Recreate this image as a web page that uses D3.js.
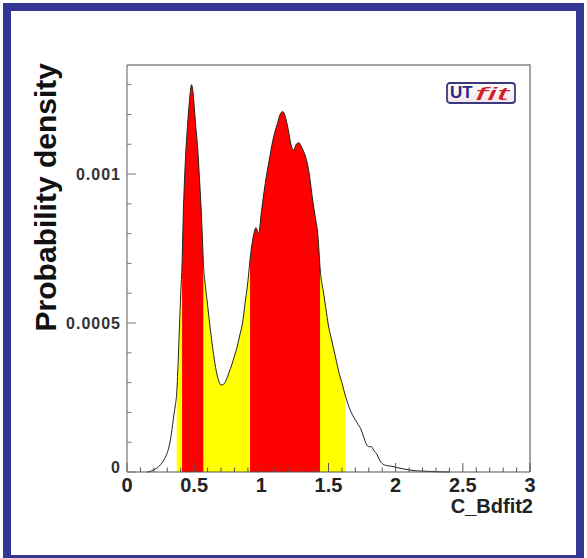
<!DOCTYPE html>
<html>
<head>
<meta charset="utf-8">
<script src="https://cdn.jsdelivr.net/npm/d3@7"></script>
<style>
  html, body { margin: 0; padding: 0; background: #fff; }
  svg { display: block; font-family: "Liberation Sans", Arial, Helvetica, sans-serif; }
</style>
</head>
<body>
<svg class="chart"></svg>
<script>
// curve: x value and probability density (in units of 1e-3)
var xValues = [0.15, 0.18, 0.20, 0.22, 0.24, 0.26, 0.28, 0.30, 0.32, 0.34, 0.35, 0.36, 0.37, 0.38, 0.39,
    0.40, 0.41, 0.42, 0.43, 0.44, 0.45, 0.46, 0.47, 0.48, 0.49, 0.50, 0.51, 0.52, 0.53, 0.54, 0.55, 0.56,
    0.57, 0.58, 0.60, 0.62, 0.64, 0.66, 0.68, 0.70, 0.72, 0.74, 0.76, 0.78, 0.80, 0.82, 0.84, 0.86, 0.88,
    0.90, 0.92, 0.94, 0.96, 0.98, 1.00, 1.02, 1.04, 1.06, 1.08, 1.10, 1.12, 1.14, 1.16, 1.18, 1.20, 1.22,
    1.24, 1.26, 1.28, 1.30, 1.32, 1.34, 1.36, 1.38, 1.40, 1.42, 1.44, 1.46, 1.48, 1.50, 1.52, 1.54, 1.56,
    1.58, 1.60, 1.62, 1.64, 1.66, 1.68, 1.70, 1.72, 1.74, 1.76, 1.78, 1.80, 1.82, 1.84, 1.86, 1.88, 1.90,
    1.93, 1.96, 2.00, 2.05, 2.10, 2.15, 2.20, 2.30, 2.40];
var densities = [0.000, 0.003, 0.008, 0.012, 0.020, 0.030, 0.045, 0.065, 0.100, 0.160, 0.195, 0.225, 0.265, 0.36, 0.48,
    0.60, 0.70, 0.88, 1.00, 1.09, 1.16, 1.22, 1.27, 1.30, 1.28, 1.23, 1.17, 1.12, 1.06, 0.98, 0.90, 0.80,
    0.69, 0.64, 0.56, 0.48, 0.41, 0.35, 0.31, 0.292, 0.295, 0.31, 0.335, 0.36, 0.39, 0.42, 0.46, 0.50, 0.57,
    0.64, 0.73, 0.79, 0.82, 0.80, 0.87, 0.94, 1.00, 1.05, 1.10, 1.14, 1.17, 1.20, 1.21, 1.19, 1.15, 1.10,
    1.08, 1.10, 1.105, 1.09, 1.07, 1.04, 0.99, 0.92, 0.86, 0.80, 0.67, 0.61, 0.55, 0.49, 0.45, 0.41, 0.37,
    0.33, 0.30, 0.265, 0.235, 0.21, 0.19, 0.175, 0.16, 0.145, 0.12, 0.095, 0.085, 0.085, 0.07, 0.06, 0.04, 0.028,
    0.022, 0.02, 0.016, 0.011, 0.007, 0.004, 0.003, 0.001, 0.000];

// 95% and 68% intervals
var yellowRanges = [[0.37, 1.627]];
var redRanges = [[0.41, 0.568], [0.916, 1.437]];

var xTickValues = [0, 0.5, 1, 1.5, 2, 2.5, 3];
var xTickLabels = ["0", "0.5", "1", "1.5", "2", "2.5", "3"];
var yTickValues = [0, 0.0005, 0.001];
var yTickLabels = ["0", "0.0005", "0.001"];

function show() {
    'use strict';
    var width = 587, height = 558;
    var plot = {left: 127, right: 530, top: 65, bottom: 472};

    var svg = d3.select(".chart")
        .attr("width", width)
        .attr("height", height);

    // blue frame round the picture
    svg.append("rect")
        .attr("x", 7).attr("y", 7)
        .attr("width", 573).attr("height", 552)
        .attr("fill", "#fff")
        .attr("stroke", "#343894")
        .attr("stroke-width", 8);

    var x = d3.scaleLinear().domain([0, 3]).range([plot.left, plot.right]);
    var y = d3.scaleLinear().domain([0, 0.001366]).range([plot.bottom, plot.top]);

    var points = xValues.map(function(v, i) { return [v, densities[i] * 1e-3]; });

    var area = d3.area()
        .curve(d3.curveMonotoneX)
        .x(function(d) { return x(d[0]); })
        .y0(y(0))
        .y1(function(d) { return y(d[1]); });

    var line = d3.line()
        .curve(d3.curveMonotoneX)
        .x(function(d) { return x(d[0]); })
        .y(function(d) { return y(d[1]); });

    var defs = svg.append("defs");
    function clipFor(id, ranges) {
        var cp = defs.append("clipPath").attr("id", id);
        ranges.forEach(function(r) {
            cp.append("rect")
                .attr("x", x(r[0]))
                .attr("y", plot.top)
                .attr("width", x(r[1]) - x(r[0]))
                .attr("height", plot.bottom - plot.top);
        });
    }
    clipFor("clipYellow", yellowRanges);
    clipFor("clipRed", redRanges);

    svg.append("path")
        .datum(points)
        .attr("d", area)
        .attr("fill", "#ffff00")
        .attr("clip-path", "url(#clipYellow)");

    svg.append("path")
        .datum(points)
        .attr("d", area)
        .attr("fill", "#ff0000")
        .attr("clip-path", "url(#clipRed)");

    svg.append("path")
        .datum(points)
        .attr("d", line)
        .attr("fill", "none")
        .attr("stroke", "#222")
        .attr("stroke-width", 1);

    // frame: top and right
    svg.append("path")
        .attr("d", "M" + plot.left + "," + plot.top + "H" + plot.right + "V" + plot.bottom)
        .attr("fill", "none")
        .attr("stroke", "#8c8282")
        .attr("stroke-width", 1.5);

    // x axis, ticks pointing into the plot
    var xAxis = svg.append("g").attr("transform", "translate(0," + plot.bottom + ")");
    xAxis.append("line")
        .attr("x1", plot.left).attr("x2", plot.right)
        .attr("stroke", "#555").attr("stroke-width", 1.2);
    xAxis.selectAll(".minor").data(d3.range(0, 3.0001, 0.1)).enter()
        .append("line")
        .attr("x1", function(d) { return x(d); })
        .attr("x2", function(d) { return x(d); })
        .attr("y2", function(d) { return Math.abs(d * 2 - Math.round(d * 2)) < 1e-6 ? -9 : -4.5; })
        .attr("stroke", "#555");
    xAxis.selectAll(".label").data(xTickValues).enter()
        .append("text")
        .attr("x", function(d) { return x(d); })
        .attr("y", 20)
        .attr("text-anchor", "middle")
        .attr("font-size", 20)
        .attr("font-weight", "bold")
        .attr("fill", "#222")
        .text(function(d, i) { return xTickLabels[i]; });
    svg.append("text")
        .attr("x", 533)
        .attr("y", 513)
        .attr("text-anchor", "end")
        .attr("font-size", 20)
        .attr("font-weight", "bold")
        .attr("fill", "#222")
        .text("C_Bdfit2");

    // y axis
    var yAxis = svg.append("g").attr("transform", "translate(" + plot.left + ",0)");
    yAxis.append("line")
        .attr("y1", plot.top).attr("y2", plot.bottom)
        .attr("stroke", "#777").attr("stroke-width", 1.2);
    yAxis.selectAll(".minor").data(d3.range(0, 0.00136, 0.0001)).enter()
        .append("line")
        .attr("y1", function(d) { return y(d); })
        .attr("y2", function(d) { return y(d); })
        .attr("x2", function(d) { return Math.abs(d / 0.0005 - Math.round(d / 0.0005)) < 1e-6 ? 9 : 4.5; })
        .attr("stroke", "#777");
    yAxis.selectAll(".label").data(yTickValues).enter()
        .append("text")
        .attr("x", -6)
        .attr("y", function(d) { return d === 0 ? y(d) - 5 : y(d); })
        .attr("dy", "0.35em")
        .attr("text-anchor", "end")
        .attr("font-size", 16)
        .attr("font-weight", "bold")
        .attr("letter-spacing", 1)
        .attr("fill", "#333")
        .text(function(d, i) { return yTickLabels[i]; });
    svg.append("text")
        .attr("transform", "translate(56,63) rotate(-90)")
        .attr("text-anchor", "end")
        .attr("font-size", 30)
        .attr("font-weight", "bold")
        .attr("fill", "#111")
        .text("Probability density");

    // UTfit logo
    var grad = defs.append("linearGradient").attr("id", "logoGrad")
        .attr("x1", 0).attr("y1", 0).attr("x2", 0).attr("y2", 1);
    grad.append("stop").attr("offset", "0%").attr("stop-color", "#ffffff");
    grad.append("stop").attr("offset", "100%").attr("stop-color", "#f3e4ea");
    var logo = svg.append("g").attr("transform", "translate(447,83)");
    logo.append("rect")
        .attr("width", 68).attr("height", 20)
        .attr("rx", 3)
        .attr("fill", "url(#logoGrad)")
        .attr("stroke", "#3a3a7a")
        .attr("stroke-width", 1.8);
    logo.append("text")
        .attr("x", 3).attr("y", 15)
        .attr("font-size", 17)
        .attr("font-weight", "bold")
        .attr("fill", "#2a2a80")
        .text("UT");
    logo.append("text")
        .attr("x", 28).attr("y", 17)
        .attr("font-size", 19)
        .attr("font-style", "italic")
        .attr("fill", "#d0202a")
        .attr("textLength", 34)
        .attr("lengthAdjust", "spacingAndGlyphs")
        .text("fit");
}
show();
</script>
</body>
</html>
